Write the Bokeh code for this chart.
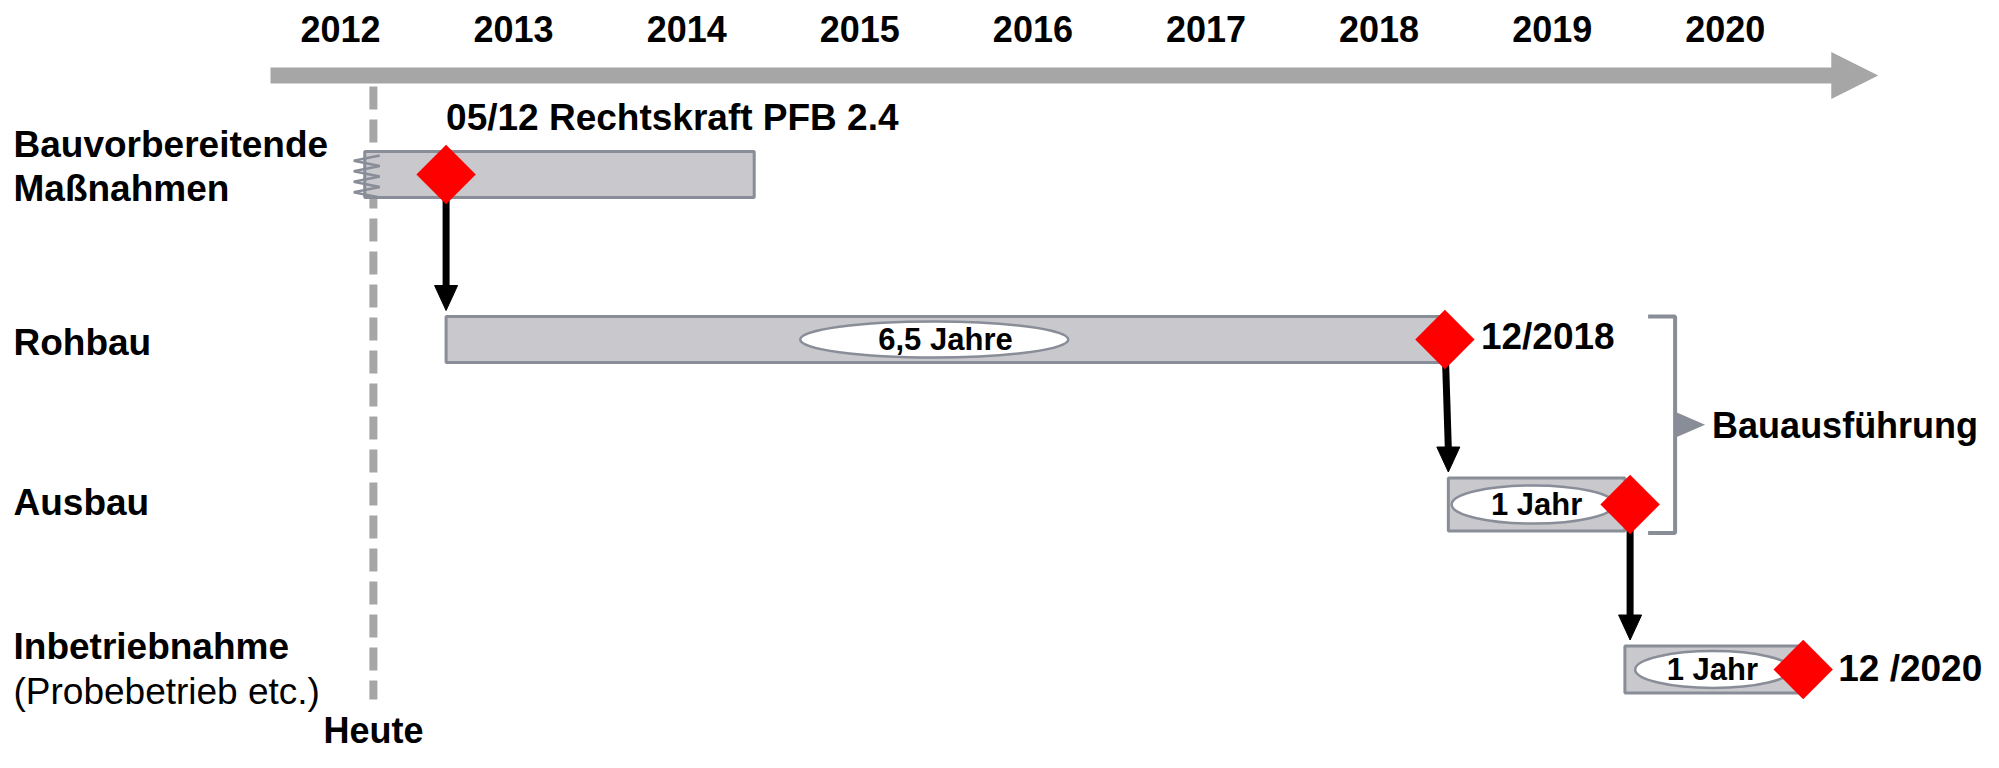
import numpy as np
from bokeh.plotting import figure
from bokeh.models import Range1d, ColumnDataSource
from bokeh.core.properties import value
from bokeh.embed import file_html
from bokeh.resources import INLINE

# ---------------- data ----------------
years = [2012, 2013, 2014, 2015, 2016, 2017, 2018, 2019, 2020]
year_labels = [str(y) for y in years]

task_row = [0, 1, 2, 3]
task_start = [2012.14, 2012.61, 2018.40, 2019.42]
task_end = [2014.39, 2018.38, 2019.42, 2020.43]

duration_text = ["6,5 Jahre", "1 Jahr", "1 Jahr"]
duration_row = [1, 2, 3]
duration_oval_x = [2015.43, 2018.89, 2019.93]

milestone_x = [2012.61, 2018.38, 2019.45, 2020.45]
milestone_row = [0, 1, 2, 3]
milestone_text = ["05/12 Rechtskraft PFB 2.4", "12/2018", "", "12 /2020"]

row_label_lines = ["Bauvorbereitende", "Maßnahmen", "Rohbau", "Ausbau", "Inbetriebnahme"]
row_label_row = [0, 0, 1, 2, 3]
row_sub_label = "(Probebetrieb etc.)"
row_sub_label_row = 3

today_x = 2012.19
today_label = "Heute"
group_label = "Bauausführung"
group_rows = [1, 2]
group_x = 2019.71

# ---------------- layout / style ----------------
W, H = 1983, 752
PX_PER_YEAR, PX_PER_ROW = 173.1, 165.0
X0 = years[0] - 340 / PX_PER_YEAR
X1 = X0 + W / PX_PER_YEAR
Y_TOP = task_row[0] - 174 / PX_PER_ROW
Y_BOTTOM = Y_TOP + H / PX_PER_ROW


def dx(px):
    return px / PX_PER_YEAR


def dy(px):
    return px / PX_PER_ROW


FONT = value("Liberation Sans")
BAR_FILL = "#C8C8CD"
BAR_LINE = "#898D98"
AXIS_GREY = "#A6A6A6"
RED = "#FF0000"
bar_h_px = [46, 46, 53, 47]
oval_w_px = [268, 163, 156]
oval_h_px = [36, 38, 37]

p = figure(width=W, height=H, x_range=Range1d(X0, X1), y_range=Range1d(Y_BOTTOM, Y_TOP),
           output_backend="svg", toolbar_location=None, min_border=0,
           x_axis_location=None, y_axis_location=None)
p.outline_line_color = None
p.grid.visible = False
p.background_fill_color = "white"
p.border_fill_color = "white"

# timeline arrow
ty = Y_TOP + dy(75)
t0 = years[0] - dx(70)
tip = years[-1] + dx(153)
h0 = tip - dx(47)
p.patch(x=[t0, h0, h0, tip, h0, h0, t0],
        y=[ty - dy(8), ty - dy(8), ty - dy(23.5), ty, ty + dy(23.5), ty + dy(8), ty + dy(8)],
        fill_color=AXIS_GREY, line_color=None)

# year labels
p.text(x=years, y=[Y_TOP + dy(28)] * len(years), text=year_labels,
       text_font=FONT, text_font_style="bold", text_font_size="36px",
       text_align="center", text_baseline="middle", text_color="black")

# today dashed line
p.segment(x0=[today_x], y0=[task_row[0] - dy(88)], x1=[today_x], y1=[task_row[-1] + dy(30)],
          line_color=AXIS_GREY, line_width=8, line_dash="23 10")

# bars
tops = [r - dy(h / 2) for r, h in zip(task_row, bar_h_px)]
bots = [r + dy(h / 2) for r, h in zip(task_row, bar_h_px)]
p.quad(left=task_start, right=task_end, top=tops, bottom=bots,
       fill_color=BAR_FILL, line_color=BAR_LINE, line_width=3)

# zigzag break on first bar
n = 8
zz_y = list(np.linspace(tops[0] + dy(4), bots[0], n + 1))
zz_x = [task_start[0] + (dx(15) if i % 2 == 0 else -dx(11)) for i in range(n + 1)]
p.line(x=zz_x, y=zz_y, line_color=BAR_LINE, line_width=2.5)

# duration ovals and texts
p.ellipse(x=duration_oval_x, y=duration_row, width=oval_w_px, height=oval_h_px,
          width_units="screen", height_units="screen",
          fill_color="white", line_color=BAR_LINE, line_width=2.5)
dur_center = [(task_start[r] + task_end[r]) / 2 for r in duration_row]
p.text(x=dur_center, y=duration_row, text=duration_text,
       text_font=FONT, text_font_style="bold", text_font_size="31px",
       text_align="center", text_baseline="middle", text_color="black")

# connector arrows (milestone -> next task)
head_len, head_w = 25, 23
sx0, sy0, sx1, sy1, hx, hy = [], [], [], [], [], []
for i in range(len(milestone_x) - 1):
    xe = max(milestone_x[i], task_start[i + 1])
    ye = tops[i + 1] - dy(6)
    sx0.append(milestone_x[i]); sy0.append(milestone_row[i])
    sx1.append(xe); sy1.append(ye - dy(head_len - 2))
    hx.append([xe - dx(head_w / 2), xe + dx(head_w / 2), xe])
    hy.append([ye - dy(head_len), ye - dy(head_len), ye])
p.segment(x0=sx0, y0=sy0, x1=sx1, y1=sy1, line_color="black", line_width=7)
p.patches(xs=hx, ys=hy, fill_color="black", line_color="black", line_width=1)

# milestones
p.scatter(x=milestone_x, y=milestone_row, marker="square", angle=np.pi / 4, size=42,
          fill_color=RED, line_color=None)

ms = ColumnDataSource(dict(x=milestone_x, y=milestone_row, t=milestone_text,
                           xo=[0, 36, 0, 35], yo=[-57, -3, 0, -1]))
p.text(x="x", y="y", text="t", x_offset="xo", y_offset="yo", source=ms,
       text_font=FONT, text_font_style="bold", text_font_size="37px",
       text_align="left", text_baseline="middle", text_color="black")

# bracket + label
g_top = tops[group_rows[0]]
g_bot = bots[group_rows[-1]] + dy(2)
g_mid = (g_top + g_bot) / 2
p.line(x=[group_x - dx(27), group_x, group_x, group_x - dx(27)],
       y=[g_top, g_top, g_bot, g_bot], line_color=BAR_LINE, line_width=4)
p.patch(x=[group_x, group_x + dx(30), group_x], y=[g_mid - dy(13), g_mid, g_mid + dy(13)],
        fill_color=BAR_LINE, line_color=None)
p.text(x=[group_x], y=[g_mid], text=[group_label], x_offset=37, y_offset=1,
       text_font=FONT, text_font_style="bold", text_font_size="36px",
       text_align="left", text_baseline="middle", text_color="black")

# row labels
rl = ColumnDataSource(dict(x=[X0] * len(row_label_lines), y=row_label_row, t=row_label_lines,
                           yo=[-30, 14, 3, -2, -23]))
p.text(x="x", y="y", text="t", x_offset=13, y_offset="yo", source=rl,
       text_font=FONT, text_font_style="bold", text_font_size="37px",
       text_align="left", text_baseline="middle", text_color="black")
p.text(x=[X0], y=[row_sub_label_row], text=[row_sub_label], x_offset=13, y_offset=22,
       text_font=FONT, text_font_size="37px",
       text_align="left", text_baseline="middle", text_color="black")

# today label
p.text(x=[today_x], y=[Y_BOTTOM], text=[today_label], y_offset=-22,
       text_font=FONT, text_font_style="bold", text_font_size="36px",
       text_align="center", text_baseline="middle", text_color="black")

open("out.html", "w").write(file_html(p, INLINE))
